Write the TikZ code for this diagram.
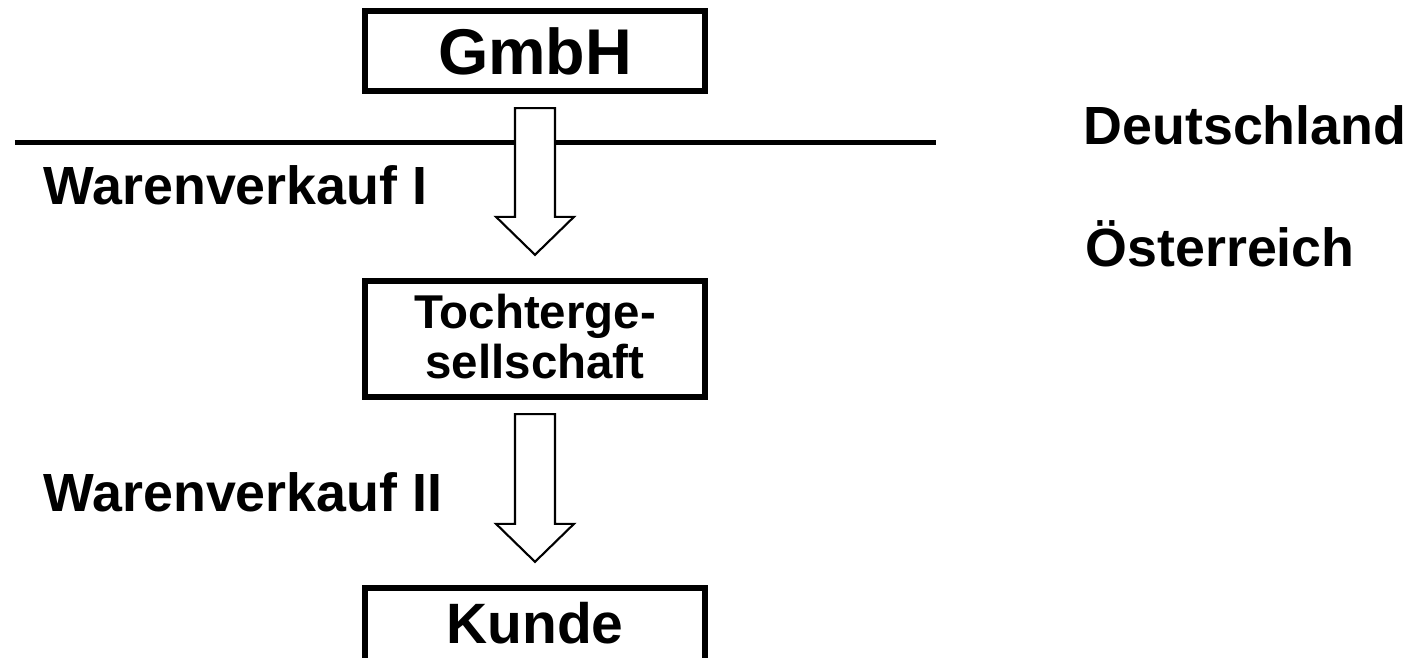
\documentclass[tikz,border=0pt]{standalone}
\usepackage{fontspec}
\setmainfont{Liberation Sans}
\usetikzlibrary{calc}

% block arrow between two boxes
\newcommand{\flowarrow}[2]{%
\draw [flow] let \p1=($(#1.south)+(0,-0.14)$), \p2=($(#2.north)+(0,0.23)$) in
 (\x1-0.2cm,\y1)-- (\x1+0.2cm,\y1)-- (\x1+0.2cm,\y2+0.38cm)-- (\x1+0.39cm,\y2+0.38cm)-- (\x1,\y2)-- (\x1-0.39cm,\y2+0.38cm)-- (\x1-0.2cm,\y2+0.38cm)-- cycle;}

\begin{document}
\begin{tikzpicture}[line join=miter,x=1cm,y=1cm,
  box/.style={draw,line width=1.8pt,minimum width=3.4cm,inner sep=0pt,align=center},
  sidetext/.style={anchor=base west,inner sep=0pt,font=\fontsize{15.3}{18}\selectfont\bfseries},
  flow/.style={draw=black,fill=white,line width=0.6pt}]
\useasboundingbox (0,0) rectangle (14.11,6.58);
\draw [line width=1.7pt] (0.15,5.155)-- (9.36,5.155);
\node [box,minimum height=0.8cm,font=\fontsize{18.4}{22}\selectfont\bfseries] (gmbh) at (5.35,6.07) {GmbH};
\node [box,minimum height=1.16cm,text depth=0.06cm,font=\fontsize{13.5}{14.2}\selectfont\bfseries] (tochter) at (5.35,3.19) {Tochterge-\\sellschaft};
\node [box,minimum height=0.8cm,text depth=0.1cm,font=\fontsize{16.2}{19}\selectfont\bfseries] (kunde) at (5.35,0.30) {Kunde};
\flowarrow{gmbh}{tochter}
\flowarrow{tochter}{kunde}
\node [sidetext] (vk1) at (0.43,4.53) {Warenverkauf I};
\node [sidetext] (vk2) at (0.43,1.46) {Warenverkauf II};
\node [sidetext] (de) at (10.83,5.13) {Deutschland};
\node [sidetext] (oe) at (10.85,3.91) {Österreich};
\end{tikzpicture}
\end{document}
